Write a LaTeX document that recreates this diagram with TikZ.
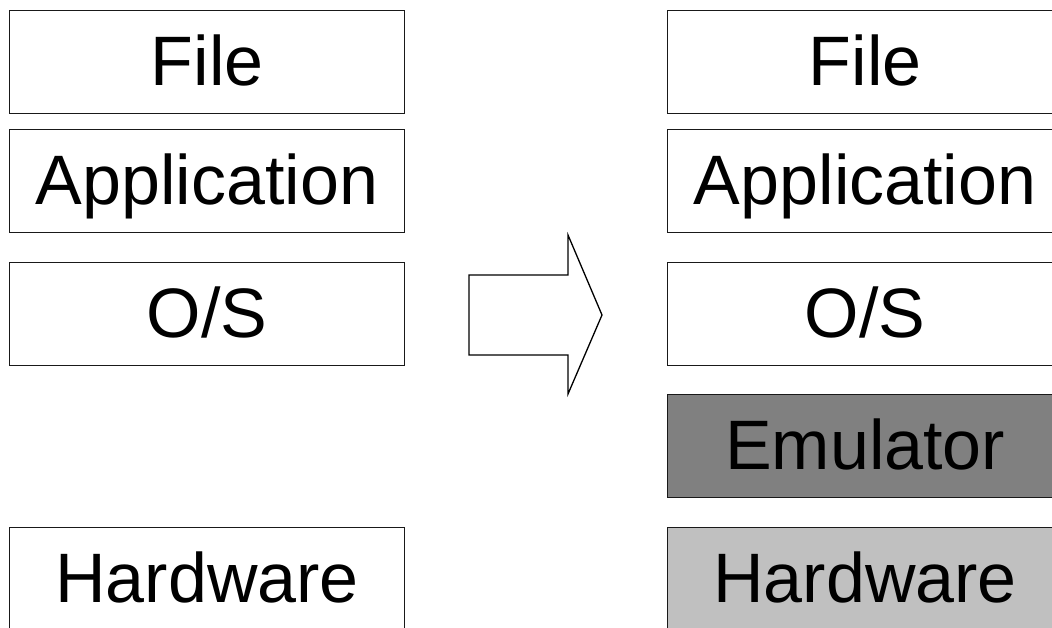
\documentclass[tikz,border=0pt]{standalone}
\usepackage{fontspec}
\setmainfont{Liberation Sans}
\begin{document}
\begin{tikzpicture}[x=1pt,y=-1pt,
  layer/.style={draw=black!90,line width=1.3pt,rectangle,anchor=north west,
    minimum width=395pt,minimum height=103pt,inner sep=0pt,
    text height=51pt,text depth=4pt,
    font=\fontsize{70}{84}\selectfont},
  bigarrow/.style={draw=black,line width=1.3pt,fill=white,line join=miter}]
\useasboundingbox (0,0) rectangle (1052,628);
\clip (0,0) rectangle (1052,628);
% left stack
\node[layer] (lfile) at (9,10) {File};
\node[layer] (lapp) at (9,129) {Application};
\node[layer] (los) at (9,262) {O/S};
\node[layer] (lhw) at (9,527) {Hardware};
% right stack
\node[layer] (rfile) at (667,10) {File};
\node[layer] (rapp) at (667,129) {Application};
\node[layer] (ros) at (667,262) {O/S};
\node[layer,fill={rgb,255:red,128;green,128;blue,128}] (remu) at (667,394) {Emulator};
\node[layer,fill={rgb,255:red,192;green,192;blue,192}] (rhw) at (667,527) {Hardware};
% block arrow
\draw[bigarrow] (469,275) -- (568,275) -- (568,235) -- (602,315) -- (568,394) -- (568,355) -- (469,355) -- cycle;
\end{tikzpicture}
\end{document}
